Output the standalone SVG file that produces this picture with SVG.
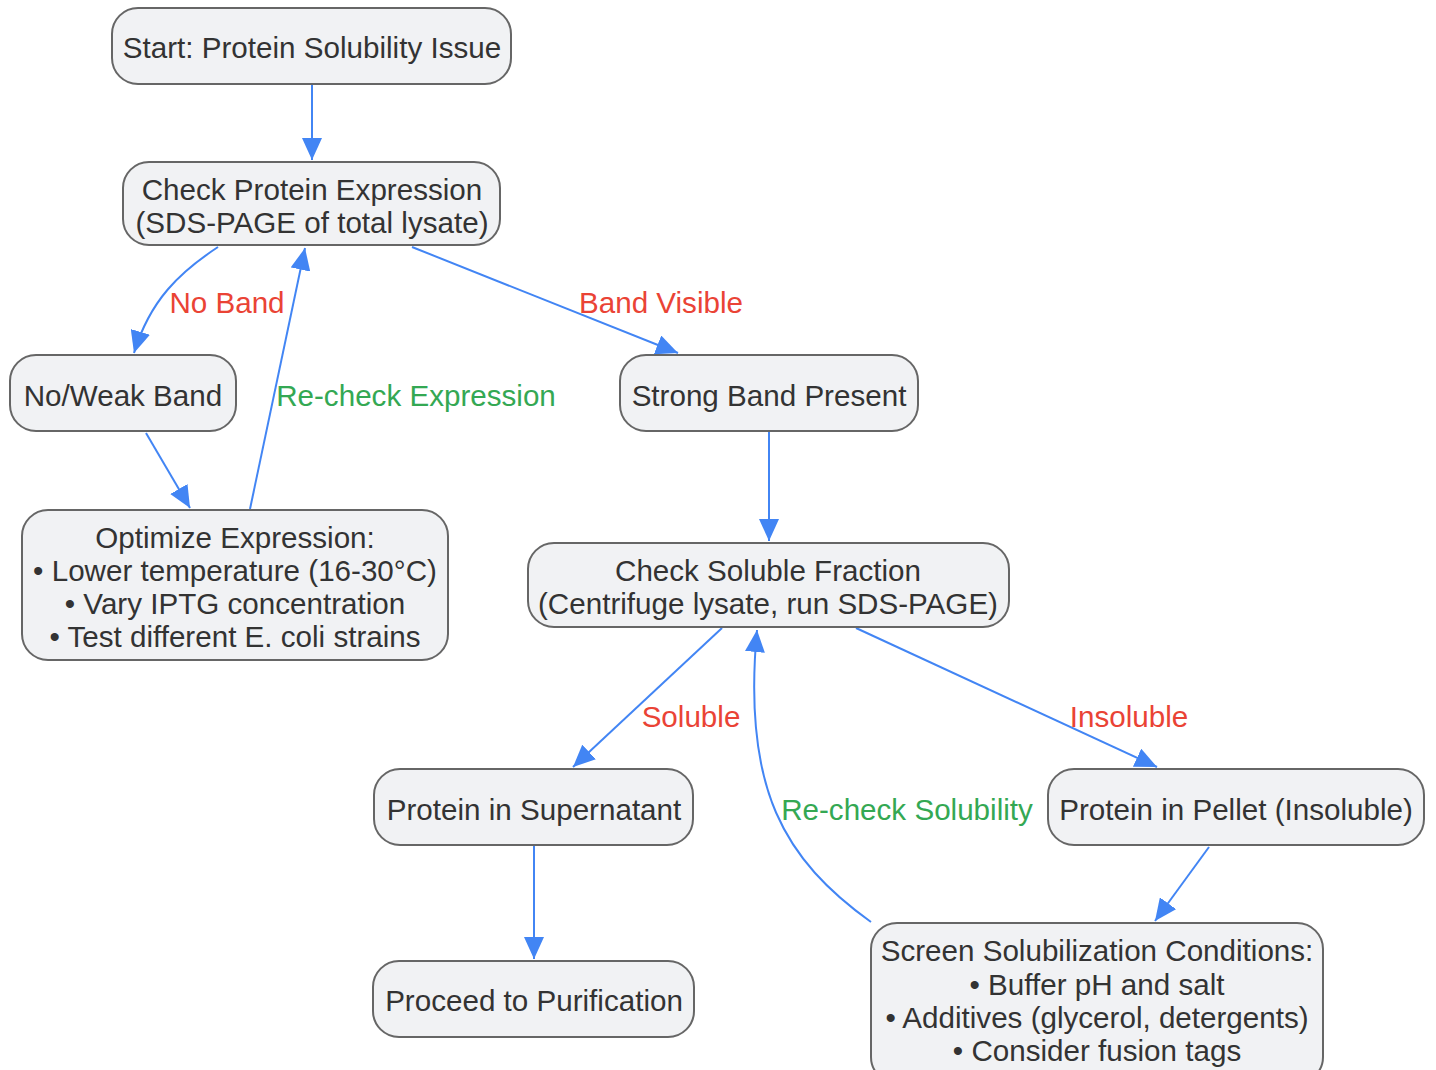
<svg xmlns="http://www.w3.org/2000/svg" width="1436" height="1070" viewBox="0 0 1436 1070">
<style>
.node rect{fill:#f1f2f4;stroke:#666;stroke-width:2}
.node text{font-family:"Liberation Sans",Arial,sans-serif;font-size:29.6px;fill:#333;text-anchor:middle;dominant-baseline:central}
.edge{fill:none;stroke:#4285f4;stroke-width:2;marker-end:url(#arr)}
.lbl{font-family:"Liberation Sans",Arial,sans-serif;font-size:29.6px;text-anchor:middle;dominant-baseline:central}
.red{fill:#ea4335}
.green{fill:#34a853}
</style>
<defs>
<marker id="arr" markerUnits="userSpaceOnUse" markerWidth="22" markerHeight="20" refX="22" refY="10" orient="auto">
<path d="M0,0 L22,10 L0,20 z" fill="#4285f4"/>
</marker>
</defs>
<rect width="1436" height="1070" fill="#fff"/>
<g id="connectors">
<path class="edge" d="M312,84 L312,160"/>
<path class="edge" d="M218,247 C180,272 150,300 134,353"/>
<path class="edge" d="M250,509 L305,248"/>
<path class="edge" d="M412,247 L678,353"/>
<path class="edge" d="M146,433 L190,508"/>
<path class="edge" d="M769,432 L769,541"/>
<path class="edge" d="M722,628 L573,767"/>
<path class="edge" d="M856,628 L1157,767"/>
<path class="edge" d="M871,922 C785,860 742,790 757,630"/>
<path class="edge" d="M534,846 L534,959"/>
<path class="edge" d="M1209,847 L1155,921"/>
<text class="lbl red" x="227" y="302">No Band</text>
<text class="lbl red" x="661" y="302">Band Visible</text>
<text class="lbl green" x="416" y="395">Re-check Expression</text>
<text class="lbl red" x="691" y="716">Soluble</text>
<text class="lbl red" x="1129" y="716">Insoluble</text>
<text class="lbl green" x="907" y="809">Re-check Solubility</text>
</g>
<g id="start" class="node">
<rect x="112" y="8" width="399" height="76" rx="26"/>
<text x="312" y="47">Start: Protein Solubility Issue</text>
</g>
<g id="checkExpr" class="node">
<rect x="123" y="162" width="377" height="83" rx="26"/>
<text x="312" y="189">Check Protein Expression</text>
<text x="312" y="222">(SDS-PAGE of total lysate)</text>
</g>
<g id="noBand" class="node">
<rect x="10" y="355" width="226" height="76" rx="26"/>
<text x="123" y="395">No/Weak Band</text>
</g>
<g id="strongBand" class="node">
<rect x="620" y="355" width="298" height="76" rx="26"/>
<text x="769" y="395">Strong Band Present</text>
</g>
<g id="optimize" class="node">
<rect x="22" y="510" width="426" height="150" rx="26"/>
<text x="235" y="537">Optimize Expression:</text>
<text x="235" y="570">• Lower temperature (16-30°C)</text>
<text x="235" y="603">• Vary IPTG concentration</text>
<text x="235" y="636">• Test different E. coli strains</text>
</g>
<g id="checkSol" class="node">
<rect x="528" y="543" width="481" height="84" rx="26"/>
<text x="768" y="570">Check Soluble Fraction</text>
<text x="768" y="603">(Centrifuge lysate, run SDS-PAGE)</text>
</g>
<g id="supernatant" class="node">
<rect x="374" y="769" width="319" height="76" rx="26"/>
<text x="534" y="809">Protein in Supernatant</text>
</g>
<g id="pellet" class="node">
<rect x="1048" y="769" width="376" height="76" rx="26"/>
<text x="1236" y="809">Protein in Pellet (Insoluble)</text>
</g>
<g id="purify" class="node">
<rect x="373" y="961" width="321" height="76" rx="26"/>
<text x="534" y="1000">Proceed to Purification</text>
</g>
<g id="screen" class="node">
<rect x="871" y="923" width="452" height="160" rx="26"/>
<text x="1097" y="950">Screen Solubilization Conditions:</text>
<text x="1097" y="984">• Buffer pH and salt</text>
<text x="1097" y="1017">• Additives (glycerol, detergents)</text>
<text x="1097" y="1050">• Consider fusion tags</text>
</g>
</svg>
